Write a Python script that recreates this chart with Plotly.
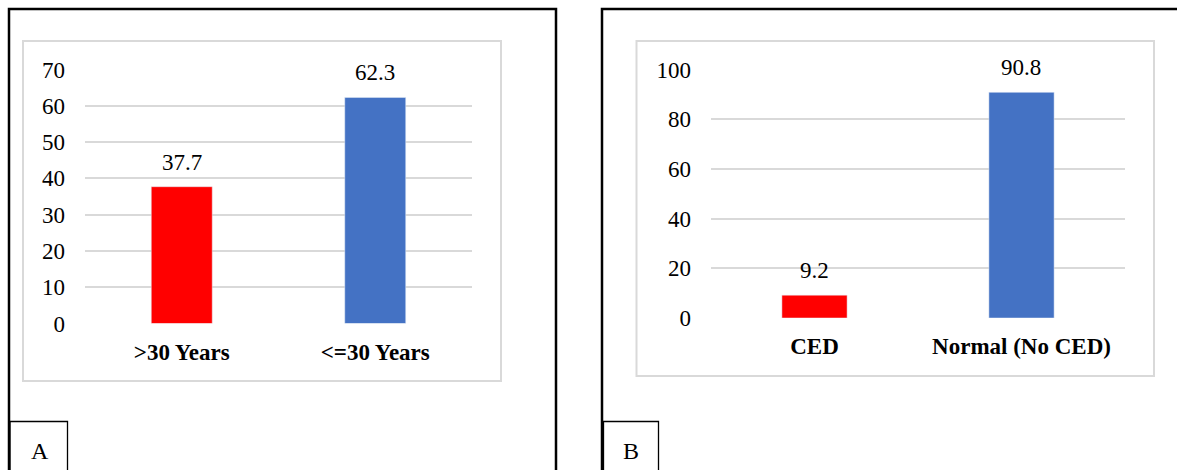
import plotly.graph_objects as go

# ---- data ----
age_groups = [">30 Years", "<=30 Years"]
age_pct = [37.7, 62.3]
ced_groups = ["CED", "Normal (No CED)"]
ced_pct = [9.2, 90.8]
bar_colors = ["#FF0000", "#4472C4"]
panel_labels = ["A", "B"]

W, H = 1177, 470
FONT = "Liberation Serif, Times New Roman, serif"
GRID = "#D9D9D9"


def fx(px):
    return px / W


def fy(py):
    return 1 - py / H


fig = go.Figure()

fig.add_trace(go.Bar(x=age_groups, y=age_pct, marker_color=bar_colors,
                     width=0.315, xaxis="x", yaxis="y", hoverinfo="x+y"))
fig.add_trace(go.Bar(x=ced_groups, y=ced_pct, marker_color=bar_colors,
                     width=0.315, xaxis="x2", yaxis="y2", hoverinfo="x+y"))

# value labels above the bars
annotations = []
for xa, ya, cats, vals in (("x", "y", age_groups, age_pct),
                           ("x2", "y2", ced_groups, ced_pct)):
    for c, v in zip(cats, vals):
        annotations.append(dict(x=c, y=v, xref=xa, yref=ya, text=f"{v}",
                                showarrow=False, yanchor="bottom", yshift=10,
                                font=dict(family=FONT, size=23, color="#000")))

# panel letters
for lab, cx in zip(panel_labels, (39.5, 631)):
    annotations.append(dict(x=fx(cx), y=fy(451), xref="paper", yref="paper",
                            text=lab, showarrow=False, xanchor="center",
                            yanchor="middle",
                            font=dict(family=FONT, size=24, color="#000")))


def rect(x0, y0, x1, y1, color, width):
    return dict(type="rect", xref="paper", yref="paper",
                x0=fx(x0), y0=fy(y0), x1=fx(x1), y1=fy(y1),
                line=dict(color=color, width=width), fillcolor="rgba(0,0,0,0)",
                layer="below")


shapes = [
    # outer panel frames
    rect(9, 9, 556, 520, "#000", 2.5),
    rect(602, 9, 1200, 520, "#000", 2.5),
    # chart-area frames
    rect(23, 41, 501, 381, GRID, 2),
    rect(636.5, 41, 1154, 376, GRID, 2),
    # letter boxes
    rect(10, 421.5, 67.5, 520, "#000", 1.3),
    rect(603.5, 421.5, 658.5, 520, "#000", 1.3),
]

yax_common = dict(showgrid=True, gridcolor=GRID, gridwidth=1.5,
                  zeroline=False, showline=False, ticks="",
                  automargin=False, ticklabelstandoff=19,
                  tickfont=dict(family=FONT, size=23, color="#000"))
xax_common = dict(showgrid=False, zeroline=False, showline=False, ticks="",
                  automargin=False, ticklabelstandoff=12,
                  tickfont=dict(family=FONT, size=23, color="#000",
                                weight="bold"))

fig.update_layout(
    width=W, height=H,
    margin=dict(l=0, r=0, t=0, b=0, pad=0, autoexpand=False),
    paper_bgcolor="white", plot_bgcolor="white",
    showlegend=False,
    xaxis=dict(domain=[fx(85), fx(472)], anchor="y", **xax_common),
    yaxis=dict(domain=[fy(323.5), fy(69.5)], anchor="x", range=[0, 70],
               tickvals=[0, 10, 20, 30, 40, 50, 60, 70], **yax_common),
    xaxis2=dict(domain=[fx(711), fx(1125)], anchor="y2", **xax_common),
    yaxis2=dict(domain=[fy(318), fy(69.5)], anchor="x2", range=[0, 100],
                tickvals=[0, 20, 40, 60, 80, 100], **yax_common),
    annotations=annotations,
    shapes=shapes,
)

fig.write_html("out.html")
